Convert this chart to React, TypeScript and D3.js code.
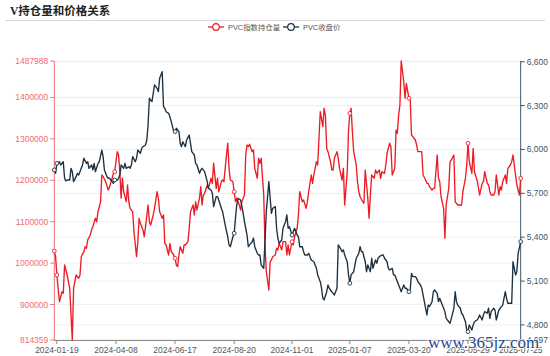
import React from 'react';
import * as d3 from 'd3';

const xTickIdx = [2, 48, 94, 140, 185, 230, 276, 322, 363];
const xTickLabels = ['2024-01-19', '2024-04-08', '2024-06-17', '2024-08-20', '2024-11-01', '2025-01-07', '2025-03-20', '2025-05-29', '2025-07-25'];
const leftTicks = [814359, 900000, 1000000, 1100000, 1200000, 1300000, 1400000, 1487988];
const rightTicks = [4697, 4800, 5100, 5400, 5700, 6000, 6300, 6600];
const symbolIdx = [0, 2, 48, 94, 140, 185, 230, 276, 322, 363];

const seriesNames = ['PVC指数持仓量', 'PVC收盘价'];

const redIdx = [0,1,2,4,6,7,8,10,11,12,14,15,17,19,20,21,23,24,25,26,28,29,30,32,33,34,36,37,38,40,42,43,45,46,47,49,50,51,52,53,54,56,57,58,59,61,62,64,65,66,67,69,70,71,73,74,75,77,78,80,81,82,84,85,86,87,89,90,91,93,94,95,96,97,98,100,101,102,104,105,106,108,109,110,111,113,114,115,116,117,119,120,122,123,124,126,127,128,130,131,132,134,135,136,137,139,140,141,142,144,145,146,148,149,150,151,152,154,155,156,158,159,160,161,163,164,165,167,168,169,170,172,173,174,175,177,178,180,181,182,183,185,186,187,189,190,191,193,194,196,197,198,200,201,202,204,205,206,207,209,210,211,212,213,215,216,217,218,220,221,222,224,225,226,228,229,230,231,232,233,235,236,237,238,240,241,242,244,245,246,247,249,250,251,253,254,255,257,258,259,261,262,263,265,266,267,268,269,270,272,273,274,276,277,278,279,281,282,283,285,286,287,289,290,291,292,294,295,296,298,299,300,301,303,304,305,307,308,309,311,312,313,314,316,317,318,320,321,322,323,325,326,327,329,330,331,333,334,335,337,338,339,340,342,343,344,346,347,348,349,351,352,353,355,356,357,359,360,362,363];
const redVal = [1029000,1015500,971300,906800,931000,927100,995400,971300,955100,939200,814359,939200,971300,963300,971300,1015500,1027600,1039600,1035800,1055800,1067900,1079900,1087900,1108200,1100000,1124100,1148300,1212700,1208600,1196600,1176500,1184500,1204800,1216800,1220700,1269000,1261000,1220700,1156500,1204800,1172400,1148300,1188600,1148300,1132300,1124100,1075800,1015500,1051700,1108200,1096100,1079900,1063800,1087900,1140300,1100000,1092000,1116200,1132300,1172400,1156500,1124100,1108200,1116200,1047800,1043700,1019600,1047800,1027600,1019600,1011600,995400,991300,1019600,1039600,1023700,1043700,1043700,1051700,1084000,1124100,1140300,1116200,1148300,1128200,1156500,1184500,1140300,1164400,1168600,1188600,1180600,1204800,1192700,1241000,1180600,1204800,1172400,1196600,1200700,1196600,1261000,1289300,1228900,1200700,1196600,1172400,1148300,1156500,1140300,1128200,1148300,1164400,1261000,1285200,1281100,1286900,1269000,1273100,1228900,1204800,1253100,1241000,1253100,1164400,1043700,979300,935100,1003400,1007500,1015500,1019600,1035800,1031700,1047800,1031700,1051700,1051700,1019600,1043700,1019600,1051700,1043700,1063800,1084000,1116200,1172400,1148300,1152400,1132300,1148300,1172400,1212700,1192700,1212700,1244800,1236900,1301300,1365600,1329400,1373800,1357600,1277200,1269000,1244800,1224800,1224800,1253100,1269000,1253100,1228900,1200700,1228900,1140300,1220700,1321400,1361700,1373800,1317300,1269000,1236900,1196600,1172400,1160300,1148300,1144400,1224800,1156500,1108200,1164400,1212700,1204800,1224800,1216800,1224800,1204800,1220700,1216800,1236900,1265100,1289300,1281100,1212700,1228900,1321400,1313400,1357600,1381700,1487988,1438000,1397900,1434100,1397900,1397900,1309300,1305200,1297200,1285200,1269000,1269000,1269000,1212700,1200700,1192700,1192700,1184500,1176500,1180600,1180600,1261000,1204800,1196600,1160300,1132300,1059900,1140300,1180600,1244800,1249000,1261000,1148300,1144400,1140300,1140300,1140300,1172400,1204800,1236900,1289300,1244800,1216800,1277200,1220700,1200700,1184500,1164400,1192700,1196600,1220700,1192700,1188600,1172400,1164400,1164400,1172400,1212700,1164400,1184500,1176500,1196600,1212700,1192700,1228900,1236900,1244800,1261000,1212700,1188600,1164400,1204800];

const darkIdx = [0,1,2,4,5,7,8,9,10,12,13,14,15,17,18,19,21,22,23,25,26,27,29,30,31,32,34,35,37,38,39,41,42,43,45,46,47,49,50,51,52,54,55,56,58,59,60,61,63,64,65,67,68,69,71,72,73,74,76,77,78,80,81,82,84,85,86,87,89,90,91,93,94,95,97,98,99,100,102,103,105,106,107,109,110,111,113,114,115,117,118,119,120,122,123,124,126,127,128,130,131,132,133,135,136,137,139,140,141,142,143,145,146,147,148,150,151,152,154,155,156,158,159,160,161,163,164,165,167,168,169,170,172,173,174,175,177,178,180,181,182,183,185,186,187,189,190,191,193,194,195,197,198,199,200,202,203,204,205,207,208,209,210,212,213,214,216,217,218,220,221,222,224,225,226,228,229,230,231,233,234,235,237,238,239,240,242,243,244,246,247,248,250,251,252,253,255,256,257,259,260,261,263,264,265,266,268,269,270,272,273,274,276,277,278,279,281,282,283,285,286,287,289,290,291,292,294,295,296,298,299,300,301,303,304,305,307,308,309,311,312,313,314,316,317,318,320,321,322,323,325,326,327,329,330,331,333,334,335,337,338,339,340,342,343,344,346,347,348,349,351,352,353,355,356,357,359,360,361,363];
const darkVal = [5860,5837,5905,5916,5894,5916,5803,5784,5791,5791,5871,5848,5780,5814,5837,5825,5871,5894,5940,5905,5916,5871,5894,5860,5905,5848,5905,5916,5996,5951,5860,5814,5803,5803,5780,5769,5791,5791,5803,5825,5894,5871,5905,5871,5882,5871,5894,5951,5916,5940,5996,5974,6008,6019,6031,6065,6167,6350,6327,6384,6441,6418,6395,6487,6532,6293,6282,6258,6247,6224,6190,6122,6122,6145,6122,6042,6019,6053,6019,6065,6099,6042,5985,5962,5905,5894,5837,5860,5871,5848,5814,5780,5734,5723,5700,5609,5677,5677,5654,5598,5574,5529,5483,5403,5347,5335,5403,5427,5529,5620,5666,5654,5609,5563,5506,5415,5335,5347,5369,5393,5335,5290,5278,5278,5210,5187,5381,5574,5780,5666,5563,5598,5609,5461,5393,5358,5381,5461,5506,5552,5461,5472,5415,5438,5461,5415,5403,5335,5335,5301,5278,5278,5290,5267,5244,5232,5210,5187,5142,5096,5051,4982,4971,5027,5073,5051,5027,5016,5005,5051,5347,5335,5301,5313,5278,5232,5142,5085,5142,5164,5210,5256,5290,5335,5301,5301,5232,5164,5210,5164,5256,5187,5244,5222,5256,5267,5278,5278,5256,5232,5187,5176,5187,5142,5142,5119,5073,5051,5027,5073,5051,5051,5027,5039,5153,5130,5130,5119,5096,5073,5051,5005,4914,4868,4936,4925,4959,5027,5039,5016,4959,4982,4959,4914,4891,4845,4822,4811,4845,4914,5027,4959,4936,4914,4880,4868,4822,4765,4754,4800,4765,4800,4822,4834,4845,4868,4834,4868,4891,4880,4914,4845,4891,4914,4902,4834,4902,4914,4925,4936,5027,4982,4948,4948,4948,5232,5142,5164,5290,5370];

const RED = '#ec1c24';
const DARK = '#1c3040';
const LEFT_AXIS = '#f26d72';
const RIGHT_AXIS = '#3e5566';
const FONT = '"Liberation Sans", "Noto Sans CJK SC", sans-serif';

export default function App() {
  const W = 550, H = 356;
  const x0 = 54.3, x1 = 520.7, yTop = 61, yBot = 340;
  const x = d3.scaleLinear().domain([0, 363]).range([x0, x1]);
  const yL = d3.scaleLinear().domain([814359, 1487988]).range([yBot, yTop]);
  const yR = d3.scaleLinear().domain([4697, 6605]).range([yBot, yTop]);
  const fmtR = d3.format(',');

  const redPts: [number, number][] = redIdx.map((d, i) => [d, redVal[i]]);
  const darkPts: [number, number][] = darkIdx.map((d, i) => [d, darkVal[i]]);

  const redLine = d3.line<[number, number]>().x(d => x(d[0])).y(d => yL(d[1]))(redPts) || '';
  const darkLine = d3.line<[number, number]>().x(d => x(d[0])).y(d => yR(d[1]))(darkPts) || '';

  const nearest = (pts: [number, number][], idx: number) => {
    let best = pts[0];
    for (const p of pts) if (Math.abs(p[0] - idx) < Math.abs(best[0] - idx)) best = p;
    return best;
  };

  return (
    <svg width={W} height={H} style={{ position: 'absolute', left: 0, top: 0, background: '#fff' }} xmlns="http://www.w3.org/2000/svg">
      <rect width={W} height={H} fill="#fff" />
      {/* title */}
      <text x={10} y={15} fontSize={11.5} fontWeight="bold" fill="#222" fontFamily='"Liberation Serif", "Noto Sans CJK SC", serif'>V持仓量和价格关系</text>
      <line x1={5} x2={545} y1={20.5} y2={20.5} stroke="#d9d9d9" strokeWidth={1} />

      {/* legend */}
      <g fontFamily={FONT} fontSize={7.4} fill="#555">
        <line x1={208} x2={224} y1={27} y2={27} stroke={RED} strokeWidth={1.3} />
        <circle cx={216} cy={27} r={3.3} fill="#fff" stroke={RED} strokeWidth={1.2} />
        <text x={228} y={29.8}>{seriesNames[0]}</text>
        <line x1={283} x2={299} y1={27} y2={27} stroke={DARK} strokeWidth={1.3} />
        <circle cx={291} cy={27} r={3.3} fill="#fff" stroke={DARK} strokeWidth={1.2} />
        <text x={303} y={29.8}>{seriesNames[1]}</text>
      </g>

      {/* grid */}
      <g stroke="#efefef" strokeWidth={1}>
        {leftTicks.map(t => <line key={'gl' + t} x1={x0} x2={x1} y1={yL(t)} y2={yL(t)} />)}
        {rightTicks.map(t => <line key={'gr' + t} x1={x0} x2={x1} y1={yR(t)} y2={yR(t)} />)}
      </g>

      {/* x axis */}
      <g fontFamily={FONT} fontSize={8.5} fill="#555">
        <line x1={x0} x2={x1} y1={yBot + 0.5} y2={yBot + 0.5} stroke="#8a8a8a" strokeWidth={1} />
        {xTickIdx.map((t, i) => (
          <g key={'xt' + t}>
            <line x1={x(t)} x2={x(t)} y1={yBot} y2={yBot + 4} stroke="#8a8a8a" strokeWidth={1} />
            <text x={x(t)} y={yBot + 12.5} textAnchor="middle">{xTickLabels[i]}</text>
          </g>
        ))}
      </g>

      {/* left axis */}
      <g fontFamily={FONT} fontSize={8.5} fill={LEFT_AXIS}>
        <line x1={x0} x2={x0} y1={yTop} y2={yBot} stroke={LEFT_AXIS} strokeWidth={1} />
        {leftTicks.map(t => (
          <g key={'lt' + t}>
            <line x1={x0 - 4} x2={x0} y1={yL(t)} y2={yL(t)} stroke={LEFT_AXIS} strokeWidth={1} />
            <text x={x0 - 6} y={yL(t) + 3} textAnchor="end">{String(t)}</text>
          </g>
        ))}
      </g>

      {/* right axis */}
      <g fontFamily={FONT} fontSize={8.5} fill={RIGHT_AXIS}>
        <line x1={x1} x2={x1} y1={yTop} y2={yBot} stroke={RIGHT_AXIS} strokeWidth={1} />
        {rightTicks.map(t => (
          <g key={'rt' + t}>
            <line x1={x1} x2={x1 + 4} y1={yR(t)} y2={yR(t)} stroke={RIGHT_AXIS} strokeWidth={1} />
            <text x={x1 + 6} y={yR(t) + 3}>{fmtR(t)}</text>
          </g>
        ))}
      </g>

      {/* series */}
      <path d={redLine} fill="none" stroke={RED} strokeWidth={1.35} strokeLinejoin="round" />
      <path d={darkLine} fill="none" stroke={DARK} strokeWidth={1.35} strokeLinejoin="round" />
      {symbolIdx.map(s => {
        const p = nearest(redPts, s);
        return <circle key={'rs' + s} cx={x(p[0])} cy={yL(p[1])} r={1.9} fill="#fff" stroke={RED} strokeWidth={0.9} />;
      })}
      {symbolIdx.map(s => {
        const p = nearest(darkPts, s);
        return <circle key={'ds' + s} cx={x(p[0])} cy={yR(p[1])} r={1.9} fill="#fff" stroke={DARK} strokeWidth={0.9} />;
      })}

      {/* watermark */}
      <text x={428} y={348} fontSize={17} fontFamily='"Liberation Serif", serif' fill="#1d3c8a" stroke="#ffffff" strokeWidth={1.5} paintOrder="stroke" opacity={0.95}>www.365jz.com</text>
    </svg>
  );
}
